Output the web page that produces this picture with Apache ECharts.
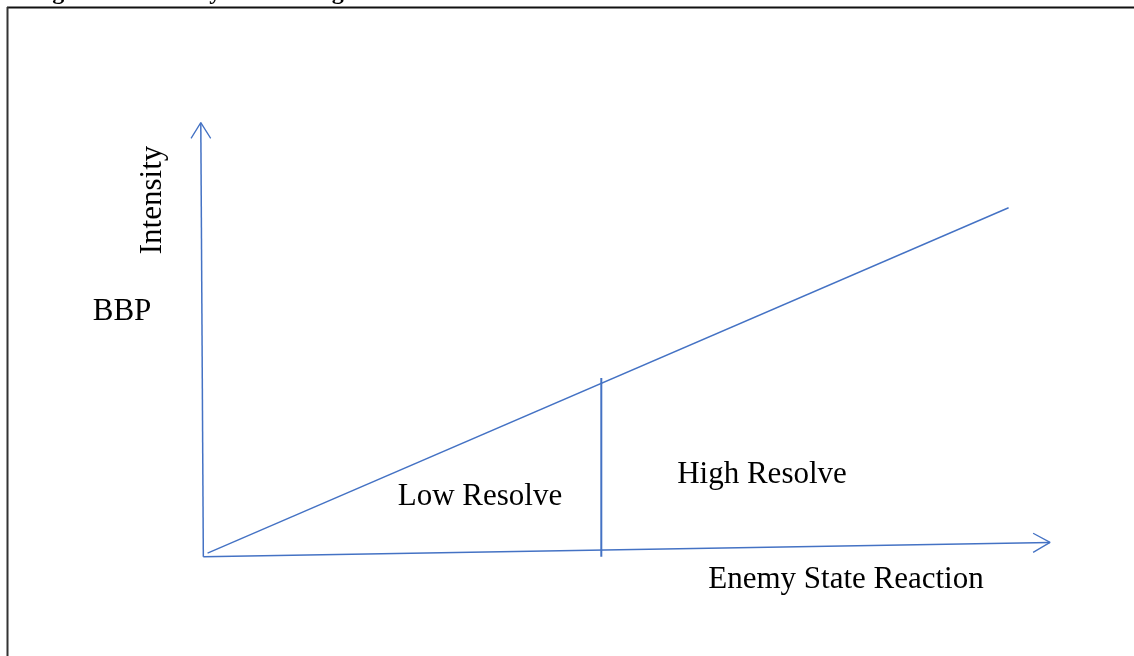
<!DOCTYPE html>
<html>
<head>
<meta charset="utf-8">
<script src="https://cdn.jsdelivr.net/npm/echarts@6/dist/echarts.min.js"></script>
<style>
  html, body { margin: 0; padding: 0; background: #fff; }
  #chart { width: 1134px; height: 656px; }
</style>
</head>
<body>
<div id="chart"></div>
<script>
// diagram lines, in chart units (x 0..10, y 0..10)
var yAxisLine = [[0, 0], [-0.03, 10]];
var xAxisLine = [[0, 0], [10, 0.33]];
var yArrow = [[-0.145, 9.64], [-0.03, 10], [0.087, 9.64]];
var xArrow = [[9.8, 0.54], [10, 0.33], [9.8, 0.1]];
var bbpLine = [[0.05, 0.08], [9.51, 8.04]];
var divider = [[4.7, 0], [4.7, 4.12]];

// texts
var caption = "Figure 1: Intensity of Reacting Resolve";
var yName = "Intensity";
var xName = "Enemy State Reaction";
var bbpName = "BBP";
var lowName = "Low Resolve";
var highName = "High Resolve";

var blue = "#4472C4";
var font = "'Liberation Serif', 'Times New Roman', serif";

function lineSeries(data, width) {
  return {
    type: "line",
    data: data,
    symbol: "none",
    silent: true,
    lineStyle: { color: blue, width: width },
  };
}

function label(str, x, y, rot) {
  return {
    type: "text",
    x: x,
    y: y,
    rotation: rot || 0,
    style: {
      text: str,
      fill: "#000",
      font: "31px " + font,
      align: "center",
      verticalAlign: "middle",
    },
  };
}

var chart = echarts.init(document.getElementById("chart"));
var option = {
  animation: false,
  backgroundColor: "#fff",
  grid: { left: 161, top: 101, width: 931.4, height: 477.4 },
  xAxis: { type: "value", min: -0.5, max: 10.5, show: false },
  yAxis: { type: "value", min: -0.5, max: 10.5, show: false },
  series: [
    lineSeries(yAxisLine, 1.5),
    lineSeries(xAxisLine, 1.5),
    lineSeries(yArrow, 1.3),
    lineSeries(xArrow, 1.3),
    lineSeries(bbpLine, 1.4),
    lineSeries(divider, 2),
  ],
  graphic: [
    // frame
    { type: "line", shape: { x1: 7, y1: 7.5, x2: 1134, y2: 7.5 }, style: { stroke: "#111", lineWidth: 2 } },
    { type: "line", shape: { x1: 7.5, y1: 7, x2: 7.5, y2: 656 }, style: { stroke: "#333", lineWidth: 2 } },
    // cut-off caption
    {
      type: "text",
      x: 31,
      y: -7,
      style: { text: caption, fill: "#000", font: "bold 24px " + font, verticalAlign: "middle" },
    },
    label(yName, 153, 200, Math.PI / 2),
    label(bbpName, 122, 312),
    label(lowName, 480, 497),
    label(highName, 762, 475),
    label(xName, 846, 580),
  ],
};
chart.setOption(option);
</script>
</body>
</html>
